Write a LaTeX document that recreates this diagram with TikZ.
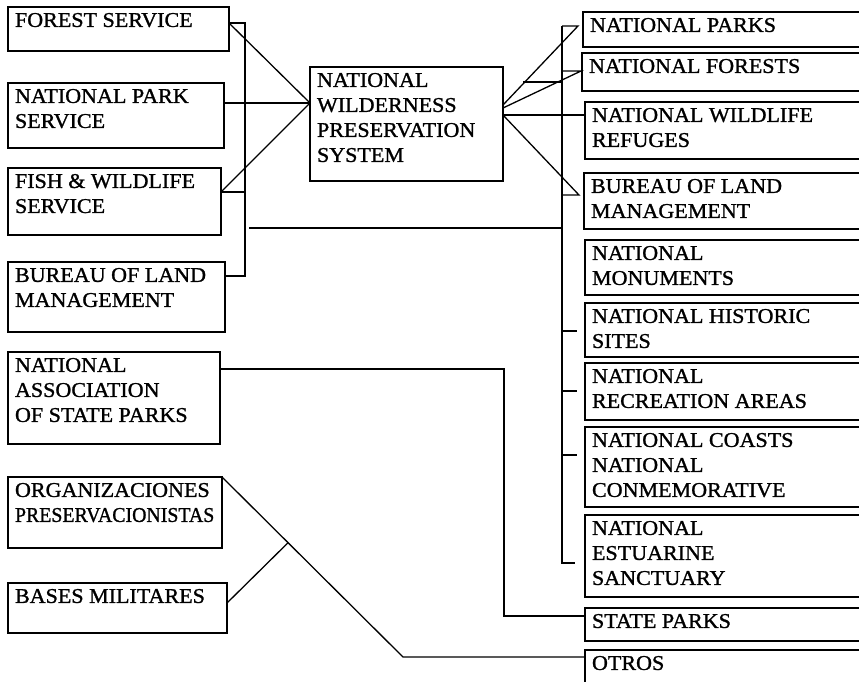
\documentclass[tikz,border=0pt]{standalone}
\usepackage{fontspec}
\setmainfont{Liberation Serif}[FakeStretch=1.05,FakeBold=1.2]
\usepackage{graphicx}
\usetikzlibrary{calc}
\tikzset{
  x=1pt, y=-1pt,
  box/.style={draw, line width=1.4pt, rectangle, inner sep=0pt, outer sep=0pt, anchor=north west},
  txt/.style={inner sep=0pt, outer sep=0pt, anchor=north west, align=left, font=\fontsize{21}{25}\selectfont},
  conn/.style={line width=1.3pt},
}
\newcommand{\mybox}[6]{% name, x1, y1, x2, y2, text
  \node[box, minimum width={#4-#2}, minimum height={#5-#3}] (#1) at (#2,#3) {};
  \node[txt] (#1-t) at ([xshift=7pt,yshift=-6pt]#1.north west) {#6};
}
\begin{document}
\begin{tikzpicture}
\useasboundingbox (0,0) rectangle (859,681);
\clip (0,0) rectangle (859,681);
% left column
\mybox{fs}{8}{7}{229}{51}{FOREST SERVICE}
\mybox{nps}{8}{83}{224}{148}{NATIONAL PARK\\SERVICE}
\mybox{fws}{8}{168}{221}{235}{FISH \& WILDLIFE\\SERVICE}
\mybox{blm}{8}{262}{225}{332}{BUREAU OF LAND\\MANAGEMENT}
\mybox{nasp}{8}{352}{220}{444}{NATIONAL\\ASSOCIATION\\OF STATE PARKS}
\mybox{org}{8}{477}{222}{548}{ORGANIZACIONES\\\scalebox{0.9}[1]{PRESERVACIONISTAS}}
\mybox{bm}{8}{583}{227}{633}{BASES MILITARES}
% centre
\mybox{nwps}{310}{67}{503}{181}{NATIONAL\\WILDERNESS\\PRESERVATION\\SYSTEM}
% right column
\mybox{np}{583}{12}{870}{47}{NATIONAL PARKS}
\mybox{nf}{582}{53}{870}{91}{NATIONAL FORESTS}
\mybox{nwr}{585}{102}{870}{159}{NATIONAL WILDLIFE\\REFUGES}
\mybox{rblm}{584}{173}{870}{229}{BUREAU OF LAND\\MANAGEMENT}
\mybox{nm}{585}{240}{870}{295}{NATIONAL\\MONUMENTS}
\mybox{nhs}{585}{303}{870}{357}{NATIONAL HISTORIC\\SITES}
\mybox{nra}{585}{363}{870}{420}{NATIONAL\\RECREATION AREAS}
\mybox{nc}{585}{427}{870}{507}{NATIONAL COASTS\\NATIONAL\\CONMEMORATIVE}
\mybox{nes}{585}{515}{870}{597}{NATIONAL\\ESTUARINE\\SANCTUARY}
\mybox{sp}{585}{608}{870}{641}{STATE PARKS}
\mybox{ot}{585}{650}{870}{700}{OTROS}

% junction coordinates
\coordinate (lbT) at (245,23);
\coordinate (lbB) at (245,276);
\coordinate (lbF) at (245,192);
\coordinate (nwin) at (310,103);
\coordinate (rbT) at (562,26);
\coordinate (rbB) at (562,563);
\coordinate (npk) at (578,26);
\coordinate (nfk) at (581,71);
\coordinate (bk) at (579,195);
\coordinate (o1) at (503,105);
\coordinate (o2) at (503,108);
\coordinate (o3) at (503,115);
\coordinate (cross) at (523,82);
\coordinate (hl) at (249,228);
\coordinate (spk) at (504,369);
\coordinate (otk) at (403,657);

% left connectors
\draw[conn] (fs.east |- lbT) -- (lbT) -- (lbB) -- (blm.east |- lbB);
\draw[conn] (fws.east |- lbF) -- (lbF);
\draw[conn] (fs.east |- lbT) -- (nwin);
\draw[conn] (nps.east |- nwin) -- (nwin);
\draw[conn] (fws.east |- lbF) -- (nwin);
\draw[conn] (hl) -- (rbT |- hl);

% right connectors
\draw[conn] (rbT) -- (rbB) -- ([xshift=13pt]rbB);
\draw[conn] (rbT) -- (npk) -- (o1);
\draw[conn] (rbT |- nfk) -- (nfk) -- (o2);
\draw[conn] (cross) -- (rbT |- cross);
\draw[conn] (o3) -- (nwr.west |- o3);
\draw[conn] (o3) -- (bk) -- (rbT |- bk);
\foreach \yy in {331,391,455}{
  \draw[conn] (rbT |- 0,\yy) -- ++(15,0);
}

% bottom connectors
\draw[conn] (nasp.east |- spk) -- (spk) -- (spk |- 0,616) -- (sp.west |- 0,616);
\draw[conn] (org.north east) -- (otk) -- (ot.west |- otk);
\draw[conn] (bm.east |- 0,603) -- ($(org.north east)!0.365!(otk)$);
\end{tikzpicture}
\end{document}
